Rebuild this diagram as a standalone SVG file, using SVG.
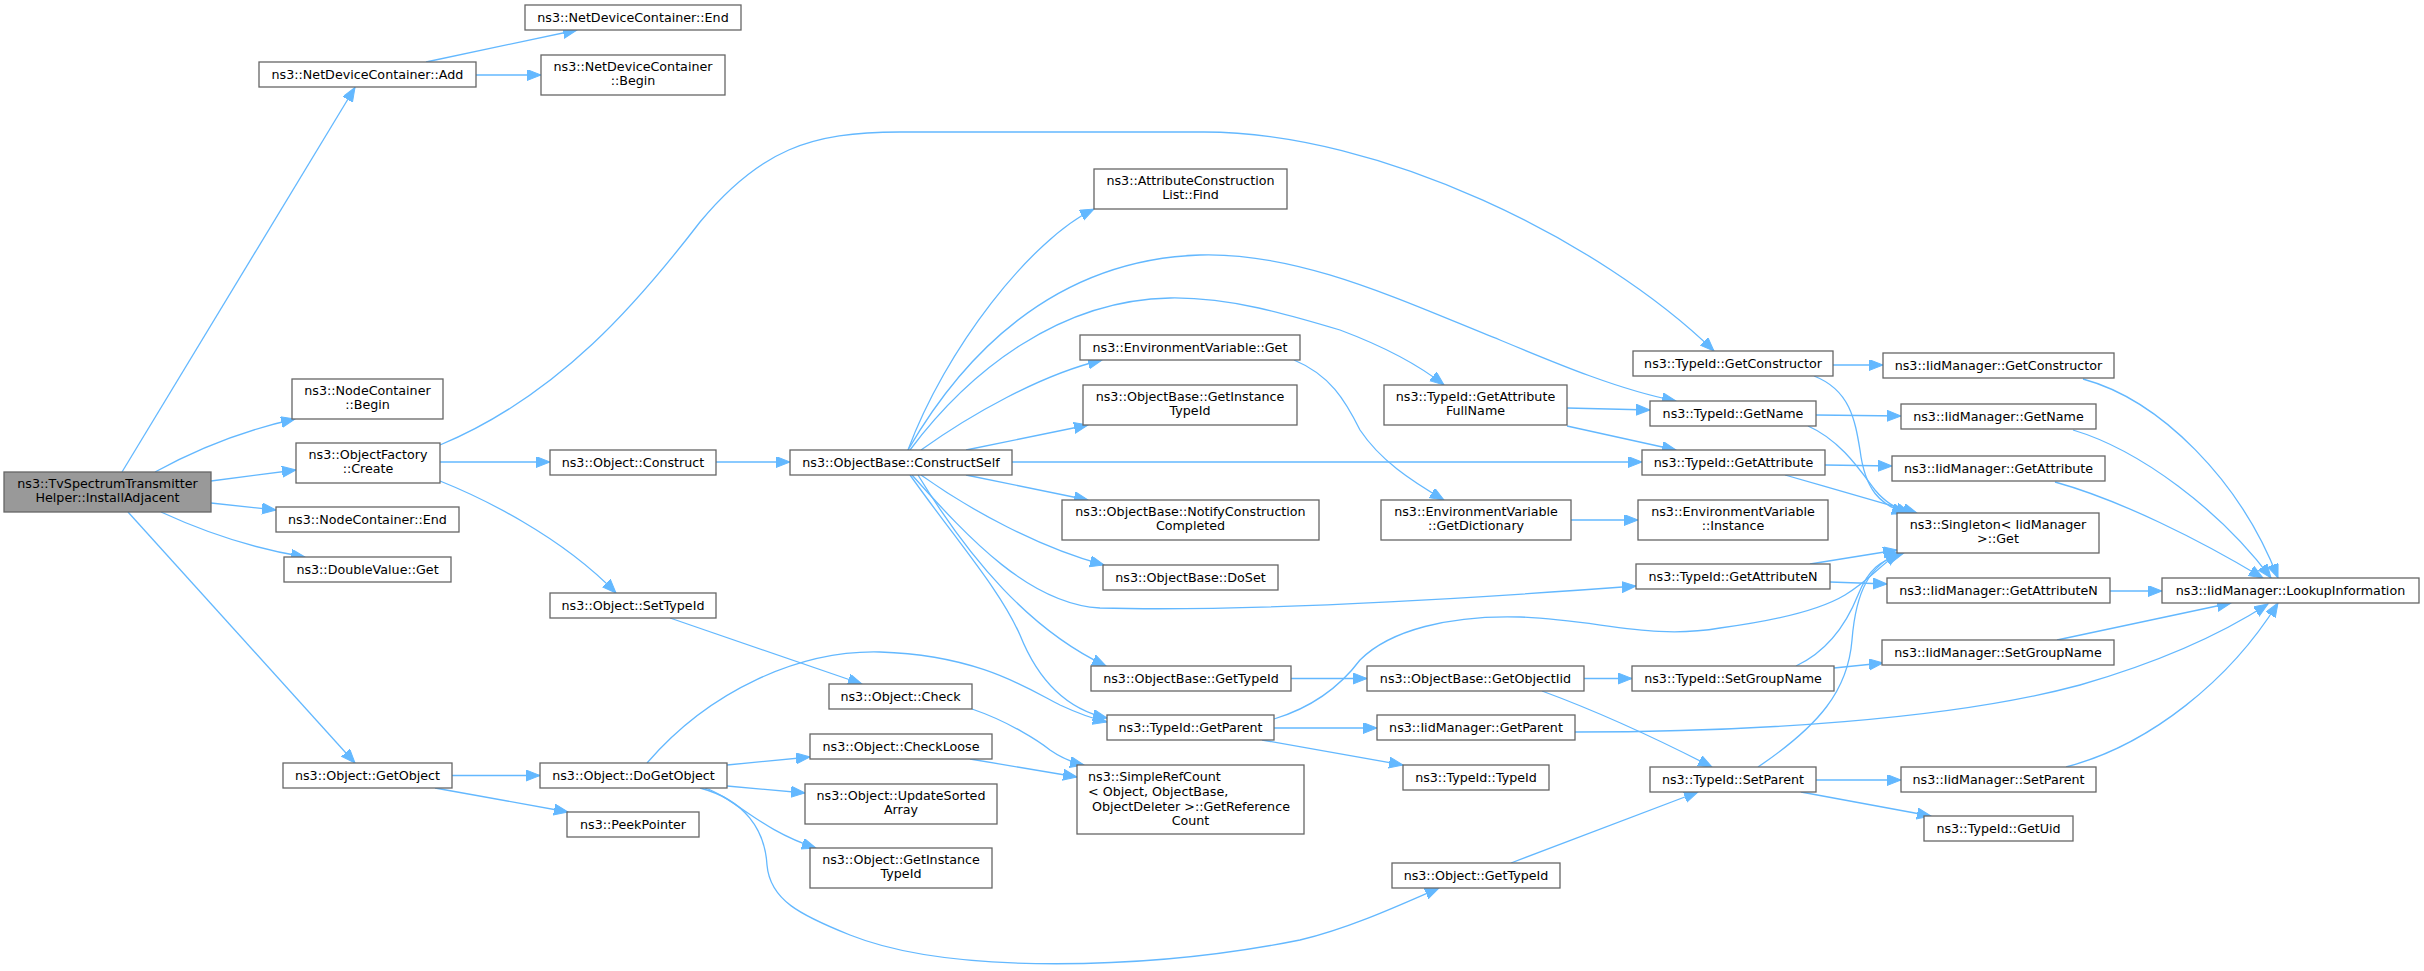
<svg xmlns="http://www.w3.org/2000/svg" width="2424" height="971" viewBox="0 0 2424 971">
<style>
.n{fill:#ffffff;stroke:#666666;stroke-width:1.3}
.m{fill:#999999;stroke:#666666;stroke-width:1.3}
text{font-family:"DejaVu Sans","Liberation Sans",sans-serif;font-size:12.7px;fill:#000000;text-anchor:middle}
text.l{text-anchor:start}
.e path{fill:none;stroke:#63b8ff;stroke-width:1.3;marker-end:url(#ah)}
</style>
<defs>
<marker id="ah" markerUnits="userSpaceOnUse" markerWidth="16" markerHeight="13" refX="14" refY="5.5" orient="auto">
<path d="M0,0 L14,5.5 L0,11 z" fill="#63b8ff" stroke="#63b8ff" stroke-width="1"/>
</marker>
</defs>
<rect width="2424" height="971" fill="#ffffff"/>
<g id="edges" class="e">
<path d="M122,472 L355,87.5"/>
<path d="M155,472 C195,450 245,430 295,419"/>
<path d="M211,481 L296,470"/>
<path d="M211,503 L276,510"/>
<path d="M161,512 C200,530 250,548 305,557"/>
<path d="M128,512 L355,763"/>
<path d="M426,62 L577,30"/>
<path d="M476,75 L541,75"/>
<path d="M440,445 C560,395 640,300 700,222 C760,150 810,132 900,132 L1204,132 C1380,132 1600,240 1714,351"/>
<path d="M440,462 L550,462"/>
<path d="M440,481 C480,497 560,535 616,593"/>
<path d="M716,462 L790,462"/>
<path d="M670,618 L862,684"/>
<path d="M452,775.5 L540,775.5"/>
<path d="M435,788 L568,812"/>
<path d="M647,763 C710,690 800,650 880,652 C980,655 1030,690 1060,705 C1075,712 1090,718 1107,722"/>
<path d="M727,765 L810,757"/>
<path d="M727,786 L805,793"/>
<path d="M705,788 C735,798 760,830 816,848"/>
<path d="M700,788 C745,800 765,830 767,865 C770,900 800,915 850,935 C950,975 1150,970 1300,940 C1350,928 1400,905 1439,888"/>
<path d="M972,709 C1010,722 1040,742 1050,750 C1060,757 1070,762 1084,765"/>
<path d="M970,759 L1077,777"/>
<path d="M908,450 C945,350 1030,240 1094,209"/>
<path d="M908,450 C960,360 1050,260 1200,255 C1300,252 1400,300 1500,340 C1560,365 1620,390 1676,401"/>
<path d="M910,450 C970,370 1060,300 1170,298 C1230,297 1290,315 1340,330 C1380,345 1415,362 1444,385"/>
<path d="M921,450 C970,415 1040,375 1102,360"/>
<path d="M966,450 L1088,425"/>
<path d="M966,475 L1088,500"/>
<path d="M1012,462 L1642,462"/>
<path d="M921,475 C970,510 1040,548 1104,565"/>
<path d="M912,475 C970,540 1030,604 1100,608 C1250,612 1450,600 1636,586"/>
<path d="M918,475 C970,560 1030,630 1106,666"/>
<path d="M910,475 C960,545 1000,590 1020,635 C1040,685 1070,710 1107,718"/>
<path d="M1294,360 C1330,375 1345,400 1360,430 C1380,460 1410,480 1444,500"/>
<path d="M1571,520 L1638,520"/>
<path d="M1291,678.5 L1367,678.5"/>
<path d="M1567,408 L1650,410"/>
<path d="M1567,426 L1676,450"/>
<path d="M1274,728 L1377,728"/>
<path d="M1262,740 L1403,765"/>
<path d="M1274,719 C1320,705 1345,680 1360,660 C1390,630 1450,615 1520,617 C1600,620 1650,640 1720,628 C1780,620 1820,610 1845,595 C1870,580 1880,565 1899,553"/>
<path d="M1584,678.5 L1632,678.5"/>
<path d="M1542,691 C1580,705 1640,730 1712,767"/>
<path d="M1511,863 L1698,792"/>
<path d="M1575,732 C1750,732 1950,720 2080,685 C2160,662 2220,635 2268,604"/>
<path d="M1833,365 L1883,365"/>
<path d="M1814,376 C1850,390 1855,420 1860,450 C1865,490 1880,505 1906,513"/>
<path d="M1816,415 L1901,416"/>
<path d="M1808,426 C1840,440 1860,470 1875,490 C1885,502 1895,508 1910,513"/>
<path d="M1825,465 L1892,466"/>
<path d="M1785,475 C1830,488 1880,502 1917,513"/>
<path d="M1810,564 L1897,550"/>
<path d="M1830,582 L1887,584"/>
<path d="M1796,666 C1830,650 1848,620 1858,595 C1868,570 1880,560 1904,553"/>
<path d="M1834,668 L1883,663"/>
<path d="M1758,767 C1820,725 1848,690 1852,640 C1856,590 1870,565 1900,553"/>
<path d="M1816,780 L1901,780"/>
<path d="M1801,792 L1931,816"/>
<path d="M2083,379 C2160,400 2240,480 2278,578"/>
<path d="M2073,430 C2140,450 2220,510 2271,578"/>
<path d="M2055,482 C2120,500 2200,540 2263,578"/>
<path d="M2110,591 L2162,591"/>
<path d="M2057,640 L2231,603"/>
<path d="M2066,767 C2150,745 2230,680 2278,603"/>
</g>
<g id="n_main"><rect class="m" x="4" y="472" width="207" height="40"/><text x="107.5" y="488">ns3::TvSpectrumTransmitter</text><text x="107.5" y="502">Helper::InstallAdjacent</text></g>
<g id="n_ndc_add"><rect class="n" x="259" y="62" width="217" height="25"/><text x="367.5" y="79">ns3::NetDeviceContainer::Add</text></g>
<g id="n_ndc_end"><rect class="n" x="525" y="5" width="216" height="25"/><text x="633" y="22">ns3::NetDeviceContainer::End</text></g>
<g id="n_ndc_begin"><rect class="n" x="541" y="55" width="184" height="40"/><text x="633" y="71">ns3::NetDeviceContainer</text><text x="633" y="85">::Begin</text></g>
<g id="n_nc_begin"><rect class="n" x="292" y="379" width="151" height="40"/><text x="367.5" y="395">ns3::NodeContainer</text><text x="367.5" y="409">::Begin</text></g>
<g id="n_of_create"><rect class="n" x="296" y="443" width="144" height="40"/><text x="368" y="459">ns3::ObjectFactory</text><text x="368" y="473">::Create</text></g>
<g id="n_nc_end"><rect class="n" x="276" y="507" width="183" height="25"/><text x="367.5" y="524">ns3::NodeContainer::End</text></g>
<g id="n_dv_get"><rect class="n" x="284" y="557" width="167" height="25"/><text x="367.5" y="574">ns3::DoubleValue::Get</text></g>
<g id="n_getobject"><rect class="n" x="283" y="763" width="169" height="25"/><text x="367.5" y="780">ns3::Object::GetObject</text></g>
<g id="n_construct"><rect class="n" x="550" y="450" width="166" height="25"/><text x="633" y="467">ns3::Object::Construct</text></g>
<g id="n_settypeid"><rect class="n" x="550" y="593" width="166" height="25"/><text x="633" y="610">ns3::Object::SetTypeId</text></g>
<g id="n_dogetobject"><rect class="n" x="540" y="763" width="187" height="25"/><text x="633.5" y="780">ns3::Object::DoGetObject</text></g>
<g id="n_peekpointer"><rect class="n" x="567" y="812" width="132" height="25"/><text x="633" y="829">ns3::PeekPointer</text></g>
<g id="n_constructself"><rect class="n" x="790" y="450" width="222" height="25"/><text x="901" y="467">ns3::ObjectBase::ConstructSelf</text></g>
<g id="n_check"><rect class="n" x="829" y="684" width="143" height="25"/><text x="900.5" y="701">ns3::Object::Check</text></g>
<g id="n_checkloose"><rect class="n" x="810" y="734" width="182" height="25"/><text x="901" y="751">ns3::Object::CheckLoose</text></g>
<g id="n_updatesorted"><rect class="n" x="805" y="784" width="192" height="40"/><text x="901" y="800">ns3::Object::UpdateSorted</text><text x="901" y="814">Array</text></g>
<g id="n_obj_getinst"><rect class="n" x="810" y="848" width="182" height="40"/><text x="901" y="864">ns3::Object::GetInstance</text><text x="901" y="878">TypeId</text></g>
<g id="n_acl_find"><rect class="n" x="1094" y="169" width="193" height="40"/><text x="1190.5" y="185">ns3::AttributeConstruction</text><text x="1190.5" y="199">List::Find</text></g>
<g id="n_env_get"><rect class="n" x="1080" y="335" width="220" height="25"/><text x="1190" y="352">ns3::EnvironmentVariable::Get</text></g>
<g id="n_ob_getinst"><rect class="n" x="1083" y="385" width="214" height="40"/><text x="1190" y="401">ns3::ObjectBase::GetInstance</text><text x="1190" y="415">TypeId</text></g>
<g id="n_notify"><rect class="n" x="1062" y="500" width="257" height="40"/><text x="1190.5" y="516">ns3::ObjectBase::NotifyConstruction</text><text x="1190.5" y="530">Completed</text></g>
<g id="n_doset"><rect class="n" x="1103" y="565" width="175" height="25"/><text x="1190.5" y="582">ns3::ObjectBase::DoSet</text></g>
<g id="n_ob_gettypeid"><rect class="n" x="1091" y="666" width="200" height="25"/><text x="1191" y="683">ns3::ObjectBase::GetTypeId</text></g>
<g id="n_tid_getparent"><rect class="n" x="1107" y="715" width="167" height="25"/><text x="1190.5" y="732">ns3::TypeId::GetParent</text></g>
<g id="n_simplerefcount"><rect class="n" x="1077" y="765" width="227" height="69"/><text class="l" x="1088" y="780.5">ns3::SimpleRefCount</text><text class="l" x="1088" y="795.5">&lt; Object, ObjectBase,</text><text class="l" x="1092" y="810.5">ObjectDeleter &gt;::GetReference</text><text x="1190.5" y="824.5">Count</text></g>
<g id="n_tid_getattrfull"><rect class="n" x="1384" y="385" width="183" height="40"/><text x="1475.5" y="401">ns3::TypeId::GetAttribute</text><text x="1475.5" y="415">FullName</text></g>
<g id="n_env_getdict"><rect class="n" x="1381" y="500" width="190" height="40"/><text x="1476" y="516">ns3::EnvironmentVariable</text><text x="1476" y="530">::GetDictionary</text></g>
<g id="n_ob_getobjectiid"><rect class="n" x="1367" y="666" width="217" height="25"/><text x="1475.5" y="683">ns3::ObjectBase::GetObjectIid</text></g>
<g id="n_iid_getparent"><rect class="n" x="1377" y="715" width="198" height="25"/><text x="1476" y="732">ns3::IidManager::GetParent</text></g>
<g id="n_tid_typeid"><rect class="n" x="1403" y="765" width="146" height="25"/><text x="1476" y="782">ns3::TypeId::TypeId</text></g>
<g id="n_obj_gettypeid"><rect class="n" x="1392" y="863" width="168" height="25"/><text x="1476" y="880">ns3::Object::GetTypeId</text></g>
<g id="n_tid_getconstructor"><rect class="n" x="1633" y="351" width="200" height="25"/><text x="1733" y="368">ns3::TypeId::GetConstructor</text></g>
<g id="n_tid_getname"><rect class="n" x="1650" y="401" width="166" height="25"/><text x="1733" y="418">ns3::TypeId::GetName</text></g>
<g id="n_tid_getattribute"><rect class="n" x="1642" y="450" width="183" height="25"/><text x="1733.5" y="467">ns3::TypeId::GetAttribute</text></g>
<g id="n_env_instance"><rect class="n" x="1638" y="500" width="190" height="40"/><text x="1733" y="516">ns3::EnvironmentVariable</text><text x="1733" y="530">::Instance</text></g>
<g id="n_tid_getattributen"><rect class="n" x="1636" y="564" width="194" height="25"/><text x="1733" y="581">ns3::TypeId::GetAttributeN</text></g>
<g id="n_tid_setgroupname"><rect class="n" x="1632" y="666" width="202" height="25"/><text x="1733" y="683">ns3::TypeId::SetGroupName</text></g>
<g id="n_tid_setparent"><rect class="n" x="1650" y="767" width="166" height="25"/><text x="1733" y="784">ns3::TypeId::SetParent</text></g>
<g id="n_iid_getconstructor"><rect class="n" x="1883" y="353" width="231" height="25"/><text x="1998.5" y="370">ns3::IidManager::GetConstructor</text></g>
<g id="n_iid_getname"><rect class="n" x="1901" y="404" width="195" height="25"/><text x="1998.5" y="421">ns3::IidManager::GetName</text></g>
<g id="n_iid_getattribute"><rect class="n" x="1892" y="456" width="213" height="25"/><text x="1998.5" y="473">ns3::IidManager::GetAttribute</text></g>
<g id="n_singleton"><rect class="n" x="1897" y="513" width="202" height="40"/><text x="1998" y="529">ns3::Singleton&lt; IidManager</text><text x="1998" y="543">&gt;::Get</text></g>
<g id="n_iid_getattributen"><rect class="n" x="1887" y="578" width="223" height="25"/><text x="1998.5" y="595">ns3::IidManager::GetAttributeN</text></g>
<g id="n_iid_setgroupname"><rect class="n" x="1882" y="640" width="232" height="25"/><text x="1998" y="657">ns3::IidManager::SetGroupName</text></g>
<g id="n_iid_setparent"><rect class="n" x="1901" y="767" width="195" height="25"/><text x="1998.5" y="784">ns3::IidManager::SetParent</text></g>
<g id="n_tid_getuid"><rect class="n" x="1924" y="816" width="149" height="25"/><text x="1998.5" y="833">ns3::TypeId::GetUid</text></g>
<g id="n_lookup"><rect class="n" x="2162" y="578" width="257" height="25"/><text x="2290.5" y="595">ns3::IidManager::LookupInformation</text></g>
</svg>
